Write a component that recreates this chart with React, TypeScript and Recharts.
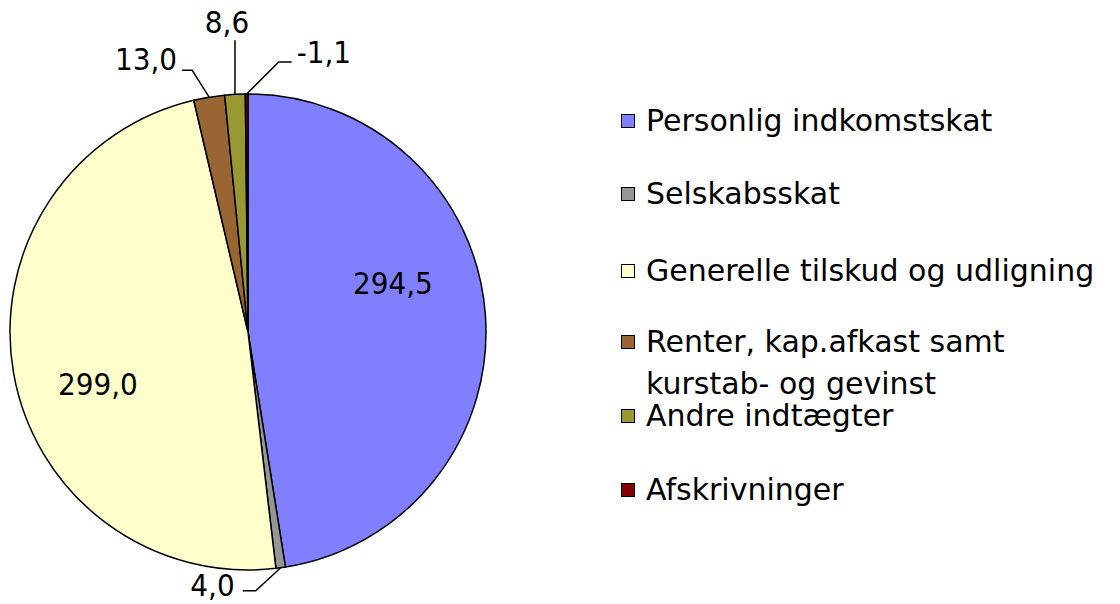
import React from 'react';
import { PieChart, Pie, Cell, Legend } from 'recharts';

const categories = [
  'Personlig indkomstskat',
  'Selskabsskat',
  'Generelle tilskud og udligning',
  'Renter, kap.afkast samt\nkurstab- og gevinst',
  'Andre indtægter',
  'Afskrivninger',
];
const values = [294.5, 4.0, 299.0, 13.0, 8.6, -1.1];
const colors = ['#8080FF', '#969696', '#FFFFCC', '#996633', '#999933', '#800000'];

const data = categories.map((name, i) => ({
  name,
  value: values[i],
  size: Math.abs(values[i]),
  label: values[i].toFixed(1).replace('.', ','),
}));

// label placement styles (relative offsets, per slice)
type Inside = { kind: 'in'; frac: number; dx: number; dy: number };
type Outside = { kind: 'out'; bx: number; by: number; tail: number; anchor: 'start' | 'middle' | 'end'; tx: number; ty: number };
const labelLayout: (Inside | Outside)[] = [
  { kind: 'in', frac: 0.64, dx: -7, dy: -26 },
  { kind: 'out', bx: -25, by: 23, tail: -13, anchor: 'end', tx: -8, ty: 5 },
  { kind: 'in', frac: 0.64, dx: 0, dy: 37 },
  { kind: 'out', bx: -17, by: -27, tail: -10, anchor: 'end', tx: -5, ty: 0 },
  { kind: 'out', bx: 0, by: -54, tail: 0, anchor: 'middle', tx: -8, ty: -7 },
  { kind: 'out', bx: 32, by: -32, tail: 13, anchor: 'start', tx: 5, ty: 1 },
];

const legendTops = [100, 173, 250, 321, 395, 469];

const RAD = Math.PI / 180;
const labelFont = '"DejaVu Sans Condensed", "DejaVu Sans", sans-serif';

const renderLabel = (props: any) => {
  const { cx, cy, midAngle, outerRadius, index } = props;
  const spec = labelLayout[index];
  const text = data[index].label;
  if (spec.kind === 'in') {
    const x = cx + outerRadius * spec.frac * Math.cos(-midAngle * RAD) + spec.dx;
    const y = cy + outerRadius * spec.frac * Math.sin(-midAngle * RAD) + spec.dy;
    return (
      <text key={`l${index}`} x={x} y={y} textAnchor="middle" fontSize={31} fontFamily={labelFont} fill="#000">
        {text}
      </text>
    );
  }
  const ex = cx + outerRadius * Math.cos(-midAngle * RAD);
  const ey = cy + outerRadius * Math.sin(-midAngle * RAD);
  const bx = ex + spec.bx;
  const by = ey + spec.by;
  const tx = bx + spec.tail;
  return (
    <g key={`l${index}`}>
      <polyline points={`${ex},${ey} ${bx},${by} ${tx},${by}`} fill="none" stroke="#000" strokeWidth={1.5} />
      <text x={tx + spec.tx} y={by + spec.ty} textAnchor={spec.anchor} fontSize={31} fontFamily={labelFont} fill="#000">
        {text}
      </text>
    </g>
  );
};

const LegendContent = () => (
  <div style={{ position: 'relative', width: 1120, height: 604 }}>
    {data.map((d, i) => (
      <div
        key={d.name}
        style={{
          position: 'absolute',
          left: 621,
          top: legendTops[i],
          display: 'flex',
          alignItems: 'flex-start',
          fontFamily: '"DejaVu Sans", sans-serif',
          fontSize: 30,
          lineHeight: '42px',
          color: '#000',
          whiteSpace: 'pre-line',
        }}
      >
        <span
          style={{
            display: 'inline-block',
            width: 12,
            height: 12,
            background: colors[i],
            border: '1px solid #000',
            marginTop: 14,
            marginRight: 11,
            flex: 'none',
          }}
        />
        <span>{d.name}</span>
      </div>
    ))}
  </div>
);

export default function App() {
  return (
    <div style={{ position: 'absolute', left: 0, top: 0, width: 1120, height: 604, background: '#fff' }}>
      <PieChart width={1120} height={604} margin={{ top: 0, right: 0, bottom: 0, left: 0 }}>
        <Pie
          data={data}
          dataKey="size"
          nameKey="name"
          cx={248}
          cy={332}
          outerRadius={238}
          startAngle={90}
          endAngle={-270}
          stroke="#000"
          strokeWidth={1.5}
          label={renderLabel}
          labelLine={false}
          isAnimationActive={false}
        >
          {data.map((d, i) => (
            <Cell key={d.name} fill={colors[i]} />
          ))}
        </Pie>
        <Legend
          layout="vertical"
          align="right"
          verticalAlign="top"
          content={() => <LegendContent />}
          wrapperStyle={{ position: 'absolute', left: 0, top: 0, width: 1120, height: 604, pointerEvents: 'none' }}
        />
      </PieChart>
    </div>
  );
}
